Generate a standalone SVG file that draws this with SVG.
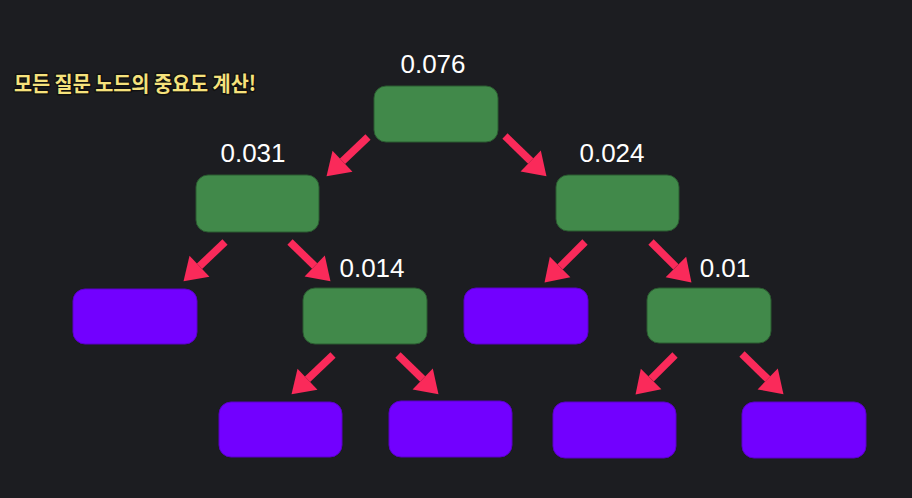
<svg xmlns="http://www.w3.org/2000/svg" width="912" height="498" viewBox="0 0 912 498">
<defs>
<style>
.g{fill:#41894a;stroke:#2a5a30;stroke-width:1}
.p{fill:#7200ff;stroke:#5a00c8;stroke-width:1}
.lbl{font-family:"Liberation Sans",Arial,sans-serif;font-size:26px;fill:#ffffff;text-anchor:middle}
.title{font-family:"Noto Sans CJK KR",sans-serif;font-size:21px;font-weight:700;fill:#f6e27c;stroke:#111111;stroke-width:3;paint-order:stroke;stroke-linejoin:round}
.arr{stroke:#fa2a5a;stroke-width:7.5;stroke-linecap:butt;marker-end:url(#ah)}
</style>
<marker id="ah" markerUnits="userSpaceOnUse" markerWidth="22" markerHeight="29" refX="0" refY="14.5" orient="auto" overflow="visible">
<path d="M0,0 L22,14.5 L0,29 Z" fill="#fa2a5a"/>
</marker>
</defs>
<rect x="0" y="0" width="912" height="498" fill="#1c1d21"/>
<text class="title" x="14" y="91" textLength="242" lengthAdjust="spacingAndGlyphs">모든 질문 노드의 중요도 계산!</text>
<g id="connectors">
<line class="arr" x1="368" y1="137" x2="342.5" y2="161.2"/>
<line class="arr" x1="505" y1="136" x2="530.7" y2="161"/>
<line class="arr" x1="225" y1="242" x2="199.5" y2="266.2"/>
<line class="arr" x1="290" y1="242" x2="314.7" y2="266"/>
<line class="arr" x1="585" y1="242" x2="560.1" y2="266.9"/>
<line class="arr" x1="651" y1="242" x2="675.9" y2="266.9"/>
<line class="arr" x1="333" y1="355" x2="307.5" y2="379.2"/>
<line class="arr" x1="398" y1="355" x2="422.7" y2="379"/>
<line class="arr" x1="675" y1="355" x2="651.1" y2="378.9"/>
<line class="arr" x1="742" y1="354" x2="767.7" y2="379"/>
</g>
<g id="n-root"><rect class="g" x="374" y="86" width="124" height="56" rx="12"/><text class="lbl" x="433" y="73">0.076</text></g>
<g id="n-l"><rect class="g" x="196" y="175" width="123" height="57" rx="12"/><text class="lbl" x="253" y="162">0.031</text></g>
<g id="n-r"><rect class="g" x="556" y="175" width="123" height="56" rx="12"/><text class="lbl" x="612" y="162">0.024</text></g>
<g id="n-ll"><rect class="p" x="73" y="289" width="124" height="55" rx="12"/></g>
<g id="n-lr"><rect class="g" x="303" y="288" width="124" height="56" rx="12"/><text class="lbl" x="372" y="277">0.014</text></g>
<g id="n-rl"><rect class="p" x="464" y="288" width="124" height="56" rx="12"/></g>
<g id="n-rr"><rect class="g" x="647" y="288" width="124" height="55" rx="12"/><text class="lbl" x="725" y="277">0.01</text></g>
<g id="n-lrl"><rect class="p" x="219" y="402" width="123" height="55" rx="12"/></g>
<g id="n-lrr"><rect class="p" x="389" y="401" width="123" height="56" rx="12"/></g>
<g id="n-rrl"><rect class="p" x="553" y="402" width="123" height="56" rx="12"/></g>
<g id="n-rrr"><rect class="p" x="742" y="402" width="124" height="56" rx="12"/></g>
</svg>
